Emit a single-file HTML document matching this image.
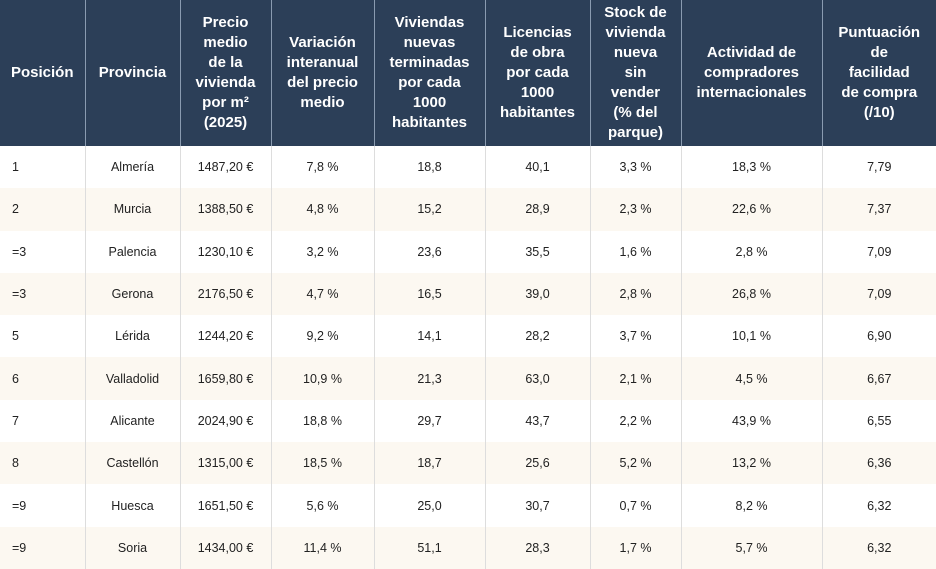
<!DOCTYPE html>
<html><head><style>
body{margin:0;width:936px;height:569px;overflow:hidden;background:#fff;font-family:"Liberation Sans",sans-serif;}
table{border-collapse:collapse;table-layout:fixed;width:936px;}
th{background:#2c3f58;color:#fff;font-weight:bold;font-size:15px;line-height:20px;height:146px;padding:0 2px;text-align:center;border-left:1px solid #8a9bb0;box-sizing:border-box;white-space:nowrap;}
th:first-child{border-left:none;text-align:left;padding-left:11px;}
td{height:42.3px;padding:0;font-size:12.5px;color:#222;text-align:center;border-left:1px solid #ddd;box-sizing:border-box;}
td:first-child{border-left:none;text-align:left;padding-left:12px;}
tr.alt td{background:#fcf8f1;}
</style></head><body>
<table>
<colgroup><col style="width:85px"><col style="width:95px"><col style="width:91px"><col style="width:103px"><col style="width:111px"><col style="width:105px"><col style="width:91px"><col style="width:141px"><col style="width:114px"></colgroup>
<tr><th>Posición</th><th>Provincia</th><th>Precio<br>medio<br>de la<br>vivienda<br>por m²<br>(2025)</th><th>Variación<br>interanual<br>del precio<br>medio</th><th>Viviendas<br>nuevas<br>terminadas<br>por cada<br>1000<br>habitantes</th><th>Licencias<br>de obra<br>por cada<br>1000<br>habitantes</th><th>Stock de<br>vivienda<br>nueva<br>sin<br>vender<br>(% del<br>parque)</th><th>Actividad de<br>compradores<br>internacionales</th><th>Puntuación<br>de<br>facilidad<br>de compra<br>(/10)</th></tr>
<tr><td>1</td><td>Almería</td><td>1487,20 €</td><td>7,8 %</td><td>18,8</td><td>40,1</td><td>3,3 %</td><td>18,3 %</td><td>7,79</td></tr>
<tr class="alt"><td>2</td><td>Murcia</td><td>1388,50 €</td><td>4,8 %</td><td>15,2</td><td>28,9</td><td>2,3 %</td><td>22,6 %</td><td>7,37</td></tr>
<tr><td>=3</td><td>Palencia</td><td>1230,10 €</td><td>3,2 %</td><td>23,6</td><td>35,5</td><td>1,6 %</td><td>2,8 %</td><td>7,09</td></tr>
<tr class="alt"><td>=3</td><td>Gerona</td><td>2176,50 €</td><td>4,7 %</td><td>16,5</td><td>39,0</td><td>2,8 %</td><td>26,8 %</td><td>7,09</td></tr>
<tr><td>5</td><td>Lérida</td><td>1244,20 €</td><td>9,2 %</td><td>14,1</td><td>28,2</td><td>3,7 %</td><td>10,1 %</td><td>6,90</td></tr>
<tr class="alt"><td>6</td><td>Valladolid</td><td>1659,80 €</td><td>10,9 %</td><td>21,3</td><td>63,0</td><td>2,1 %</td><td>4,5 %</td><td>6,67</td></tr>
<tr><td>7</td><td>Alicante</td><td>2024,90 €</td><td>18,8 %</td><td>29,7</td><td>43,7</td><td>2,2 %</td><td>43,9 %</td><td>6,55</td></tr>
<tr class="alt"><td>8</td><td>Castellón</td><td>1315,00 €</td><td>18,5 %</td><td>18,7</td><td>25,6</td><td>5,2 %</td><td>13,2 %</td><td>6,36</td></tr>
<tr><td>=9</td><td>Huesca</td><td>1651,50 €</td><td>5,6 %</td><td>25,0</td><td>30,7</td><td>0,7 %</td><td>8,2 %</td><td>6,32</td></tr>
<tr class="alt"><td>=9</td><td>Soria</td><td>1434,00 €</td><td>11,4 %</td><td>51,1</td><td>28,3</td><td>1,7 %</td><td>5,7 %</td><td>6,32</td></tr>
</table>
</body></html>
